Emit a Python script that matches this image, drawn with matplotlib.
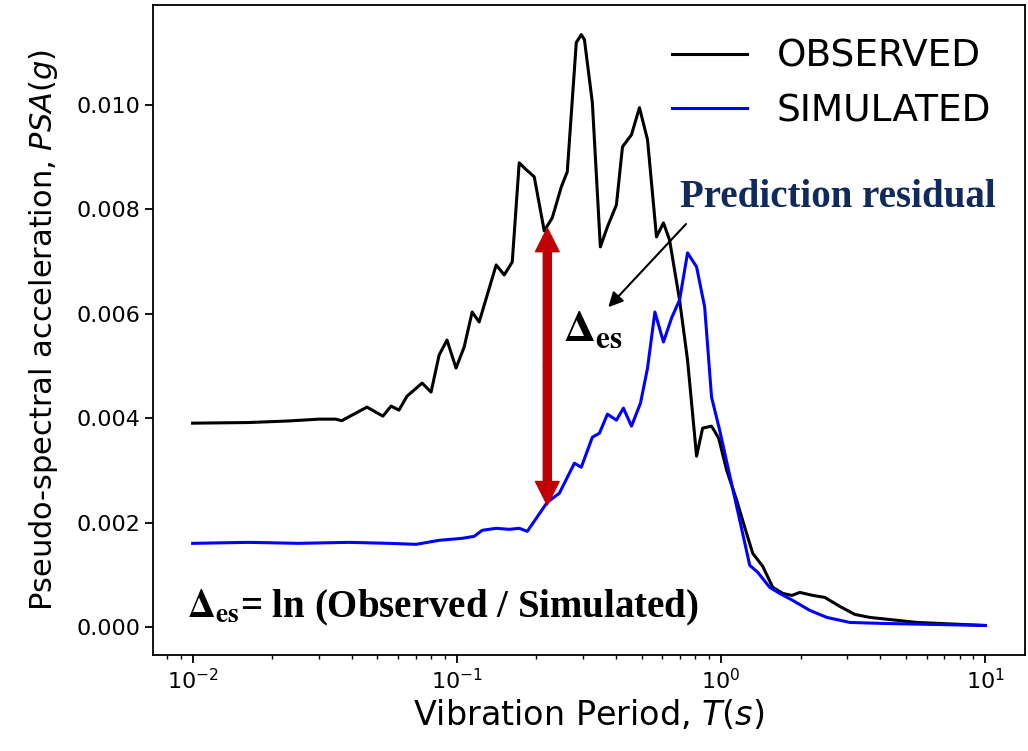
"""
Observed vs simulated pseudo-spectral acceleration, with the prediction residual marked.
"""
import matplotlib
matplotlib.use("Agg")
import matplotlib.pyplot as plt

# periods (s) and PSA (g)
period_obs = [0.0100, 0.0163, 0.0231, 0.0301, 0.0348, 0.0367, 0.0401, 0.0457,
              0.0525, 0.0564, 0.0604, 0.0648, 0.0739, 0.0799, 0.0857, 0.0918,
              0.0993, 0.1066, 0.1143, 0.1215, 0.1409, 0.1511, 0.1621, 0.1722,
              0.1832, 0.1963, 0.2142, 0.2297, 0.2486, 0.2618, 0.2832, 0.2958,
              0.3040, 0.3258, 0.3493, 0.3715, 0.4018, 0.4236, 0.4581, 0.4911,
              0.5269, 0.5697, 0.6053, 0.6383, 0.6966, 0.7468, 0.8079, 0.8514,
              0.9205, 0.9796, 1.050, 1.146, 1.229, 1.318, 1.438, 1.570,
              1.714, 1.853, 1.987, 2.225, 2.470, 2.816, 3.212, 3.660,
              5.518, 10.0]
psa_obs = [0.003908, 0.003920, 0.003950, 0.003985, 0.003985, 0.003955, 0.004061, 0.004215,
           0.004042, 0.004234, 0.004157, 0.004425, 0.004674, 0.004502, 0.005211, 0.005498,
           0.004962, 0.005364, 0.006034, 0.005843, 0.006935, 0.006743, 0.006992, 0.008889,
           0.008755, 0.008621, 0.007586, 0.007835, 0.008429, 0.008716, 0.011188, 0.011341,
           0.011245, 0.010038, 0.007280, 0.007663, 0.008084, 0.009195, 0.009425, 0.009943,
           0.009330, 0.007471, 0.007739, 0.007414, 0.006264, 0.005115, 0.003276, 0.003812,
           0.003851, 0.003621, 0.003008, 0.002433, 0.001916, 0.001418, 0.001169, 0.000766,
           0.000651, 0.000613, 0.000670, 0.000613, 0.000575, 0.000402, 0.000249, 0.000192,
           0.000096, 0.000038]

period_sim = [0.0100, 0.0163, 0.0252, 0.0390, 0.0554, 0.0701, 0.0857, 0.1047,
              0.1163, 0.1247, 0.1409, 0.1578, 0.1722, 0.1848, 0.2199, 0.2443,
              0.2786, 0.2958, 0.3258, 0.3465, 0.3715, 0.4018, 0.4271, 0.4581,
              0.4955, 0.5269, 0.5618, 0.6053, 0.6497, 0.6966, 0.7468, 0.8079,
              0.8668, 0.9205, 0.9879, 1.078, 1.177, 1.284, 1.377, 1.529,
              1.668, 1.868, 2.168, 2.515, 3.074, 4.101, 10.0]
psa_sim = [0.001609, 0.001628, 0.001609, 0.001628, 0.001609, 0.001590, 0.001667, 0.001705,
           0.001743, 0.001858, 0.001897, 0.001877, 0.001897, 0.001839, 0.002395, 0.002567,
           0.003142, 0.003065, 0.003640, 0.003716, 0.004080, 0.003966, 0.004195, 0.003851,
           0.004291, 0.004962, 0.006034, 0.005460, 0.005920, 0.006264, 0.007165, 0.006897,
           0.006130, 0.004406, 0.003774, 0.002912, 0.002050, 0.001188, 0.001054, 0.000766,
           0.000651, 0.000517, 0.000326, 0.000192, 0.000096, 0.000077, 0.000038]

# where the residual arrow sits
resid_period = 0.22
resid_top = 0.00764
resid_bottom = 0.00234

fig = plt.figure(figsize=(10.28, 7.51), dpi=100)
ax = fig.add_axes([0.1488, 0.1278, 0.8482, 0.8655])

ax.plot(period_obs, psa_obs, color="black", lw=2.2, label="OBSERVED")
ax.plot(period_sim, psa_sim, color="blue", lw=2.2, label="SIMULATED")
ax.set_xscale("log")

ax.set_xlabel("Vibration Period, $T(s)$", fontsize=24)
ax.set_ylabel("Pseudo-spectral acceleration, $PSA(g)$", fontsize=22, labelpad=12)
ax.tick_params(labelsize=16, length=5.6, width=1.3)
ax.tick_params(which="minor", length=3.2, width=1.0)
for s in ax.spines.values():
    s.set_linewidth(1.3)

ax.legend(loc="upper right", frameon=False, fontsize=27)

# double headed red arrow between the two spectra
mid = (resid_top + resid_bottom) / 2
for end in (resid_top, resid_bottom):
    ax.annotate("", xy=(resid_period, end), xytext=(resid_period, mid),
                arrowprops=dict(facecolor="#c00000", edgecolor="#c00000",
                                width=5.8, headwidth=17, headlength=17, shrink=0))

serif = dict(family="Liberation Serif", fontweight="bold", math_fontfamily="stix")
ax.text(0.6044, 0.6892, "Prediction residual", transform=ax.transAxes,
        fontsize=28, color="#102a5c", va="baseline", **serif)
ax.annotate("", xy=(0.520, 0.532), xytext=(0.6135, 0.6662), xycoords="axes fraction",
            arrowprops=dict(arrowstyle="-|>", color="black", lw=1.5, mutation_scale=22))
ax.text(0.4702, 0.4815, r"$\mathbf{\Delta}_{\mathbf{es}}$", transform=ax.transAxes,
        fontsize=32, va="baseline", **serif)
ax.text(0.039, 0.0585, r"$\mathbf{\Delta}_{\mathbf{es}}$= ln (Observed / Simulated)",
        transform=ax.transAxes, fontsize=28, va="baseline", **serif)

fig.savefig("out.png", dpi=100)
